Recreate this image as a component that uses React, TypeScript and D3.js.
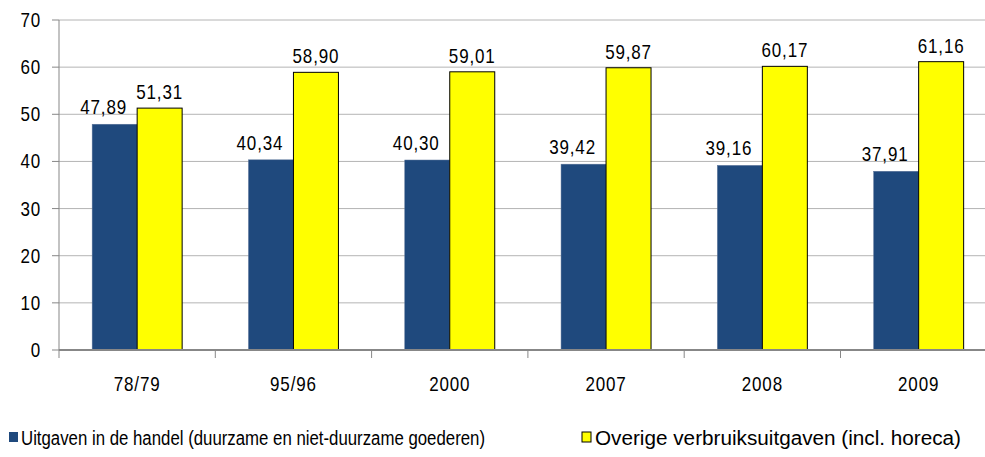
import React from "react";
import * as d3 from "d3";

const categories = ["78/79", "95/96", "2000", "2007", "2008", "2009"];
const seriesNames = [
  "Uitgaven in de handel (duurzame en niet-duurzame goederen)",
  "Overige verbruiksuitgaven (incl. horeca)",
];
const handel = [47.89, 40.34, 40.3, 39.42, 39.16, 37.91];
const overige = [51.31, 58.9, 59.01, 59.87, 60.17, 61.16];
const yTicks = [0, 10, 20, 30, 40, 50, 60, 70];

const W = 985;
const H = 457;
const colors = ["#1F497D", "#FFFF00"];
const font = "'Liberation Sans', Arial, sans-serif";
const FS = 20;
const SX = 0.85; // narrow look

const fmt = (v: number) => v.toFixed(2).replace(".", ",");

// text squeezed horizontally around its anchor point
const Narrow = ({ x, y, anchor, children, dy }: any) => (
  <text transform={`translate(${x},${y}) scale(${SX},1)`} dy={dy} textAnchor={anchor}
    fontSize={FS} letterSpacing={1} fill="#000">{children}</text>
);

export default function App() {
  const left = 59;
  const step = 156.3;
  const x = d3.scaleBand<string>()
    .domain(categories)
    .range([left, left + step * categories.length]);
  const inner = d3.scaleBand<number>()
    .domain([0, 1])
    .range([0, x.bandwidth()])
    .paddingInner(0)
    .paddingOuter(0.737);
  const y = d3.scaleLinear().domain([0, 70]).range([350, 20]);

  const series = [handel, overige];

  return (
    <svg width={W} height={H} style={{ position: "absolute", left: 0, top: 0, background: "#fff" }}
      fontFamily={font}>
      {/* gridlines */}
      {yTicks.filter(t => t > 0).map(t => (
        <line key={t} x1={left} x2={W} y1={y(t)} y2={y(t)} stroke="#b4b4b4" strokeWidth={1} />
      ))}
      {/* y axis */}
      <line x1={left} x2={left} y1={y(70)} y2={y(0)} stroke="#878787" strokeWidth={1} />
      {yTicks.map(t => (
        <g key={t}>
          <line x1={52} x2={left} y1={y(t)} y2={y(t)} stroke="#878787" />
          <Narrow x={41} y={y(t)} dy="0.35em" anchor="end">{t}</Narrow>
        </g>
      ))}
      {/* bars */}
      {series.map((vals, si) => vals.map((v, i) => {
        const bx = (x(categories[i]) as number) + (inner(si) as number);
        return (
          <rect key={`${si}-${i}`} x={bx} y={y(v)} width={inner.bandwidth()} height={y(0) - y(v)}
            fill={colors[si]} stroke={si === 1 ? "#000" : "#5a7398"} strokeWidth={si === 1 ? 1 : 0.5} />
        );
      }))}
      {/* labels */}
      {series.map((vals, si) => vals.map((v, i) => {
        const cx = (x(categories[i]) as number) + (inner(si) as number) + inner.bandwidth() / 2 - (si === 0 ? 11 : 0);
        return (
          <Narrow key={`l${si}-${i}`} x={cx} y={y(v) - (si === 0 ? 10 : 9)} anchor="middle">{fmt(v)}</Narrow>
        );
      }))}
      {/* x axis */}
      <line x1={left} x2={W} y1={y(0)} y2={y(0)} stroke="#878787" strokeWidth={2} />
      {d3.range(categories.length + 1).map(i => (
        <line key={i} x1={left + i * step} x2={left + i * step} y1={y(0)} y2={y(0) + 8} stroke="#878787" />
      ))}
      {categories.map(c => (
        <Narrow key={c} x={(x(c) as number) + x.bandwidth() / 2} y={391} anchor="middle">{c}</Narrow>
      ))}
      {/* legend */}
      <rect x={9} y={432} width={9} height={10} fill={colors[0]} />
      <text x={21} y={445} fontSize={20} textLength={464} lengthAdjust="spacingAndGlyphs" fill="#000">
        {seriesNames[0]}
      </text>
      <rect x={582} y={432} width={9} height={10} fill={colors[1]} stroke="#000" strokeWidth={1} />
      <text x={595} y={445} fontSize={20} textLength={366} lengthAdjust="spacingAndGlyphs" fill="#000">
        {seriesNames[1]}
      </text>
    </svg>
  );
}
